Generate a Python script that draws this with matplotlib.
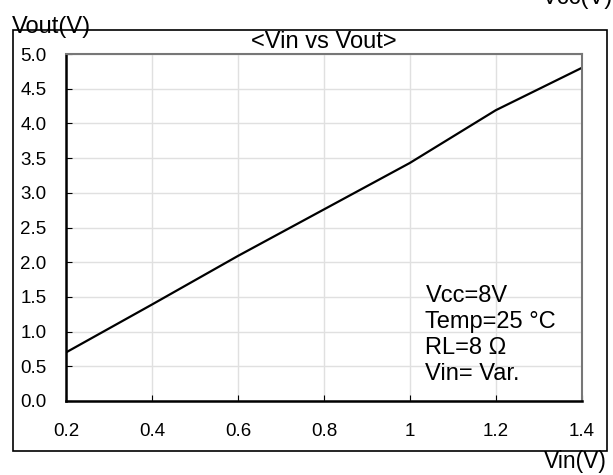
import matplotlib.pyplot as plt
from matplotlib.patches import Rectangle

plt.rcParams['font.family'] = ['Liberation Sans', 'DejaVu Sans']

vin = [0.2, 0.4, 0.6, 0.8, 1.0, 1.2, 1.4]
vout = [0.70, 1.39, 2.09, 2.76, 3.43, 4.19, 4.80]
xticks = [0.2, 0.4, 0.6, 0.8, 1.0, 1.2, 1.4]
xlabels = ['0.2', '0.4', '0.6', '0.8', '1', '1.2', '1.4']
yticks = [0.0, 0.5, 1.0, 1.5, 2.0, 2.5, 3.0, 3.5, 4.0, 4.5, 5.0]
note = "Vcc=8V\nTemp=25 \u00b0C\nRL=8 \u03a9\nVin= Var."

fig = plt.figure(figsize=(6.13, 4.75), dpi=100)
fig.patches.append(Rectangle((0.0212, 0.0505), 0.9688, 0.8863, transform=fig.transFigure,
                             fill=False, edgecolor='black', linewidth=1.2))

ax = fig.add_axes([0.1077, 0.1558, 0.8413, 0.7305])
ax.plot(vin, vout, c='black', linewidth=1.6)
ax.set_xlim(0.2, 1.4)
ax.set_ylim(0, 5)
ax.set_xticks(xticks)
ax.set_xticklabels(xlabels)
ax.set_yticks(yticks)
ax.set_yticklabels(['%.1f' % v for v in yticks])
ax.grid(color='#e0e0e0', linewidth=1)
ax.tick_params(direction='in', length=4, labelsize=13.5)
ax.tick_params(axis='x', pad=16)
ax.tick_params(axis='y', pad=14)
for s in ['left', 'bottom']:
    ax.spines[s].set_linewidth(1.8)
for s in ['top', 'right']:
    ax.spines[s].set_color('#777777')
    ax.spines[s].set_linewidth(1.5)

ax.text(0.5, 1.003, "<Vin vs Vout>", transform=ax.transAxes, ha='center', va='bottom',
        fontsize=17)
ax.text(0.697, 0.045, note, transform=ax.transAxes, ha='left', va='bottom',
        fontsize=17, linespacing=1.24)

fig.text(0.0196, 0.9305, "Vout(V)", ha='left', va='baseline', fontsize=17)
fig.text(0.99, 0.0147, "Vin(V)", ha='right', va='baseline', fontsize=16.5)
fig.text(1.0, 0.991, "Vcc(V)", ha='right', va='baseline', fontsize=17)

fig.savefig('out.png', dpi=100)
